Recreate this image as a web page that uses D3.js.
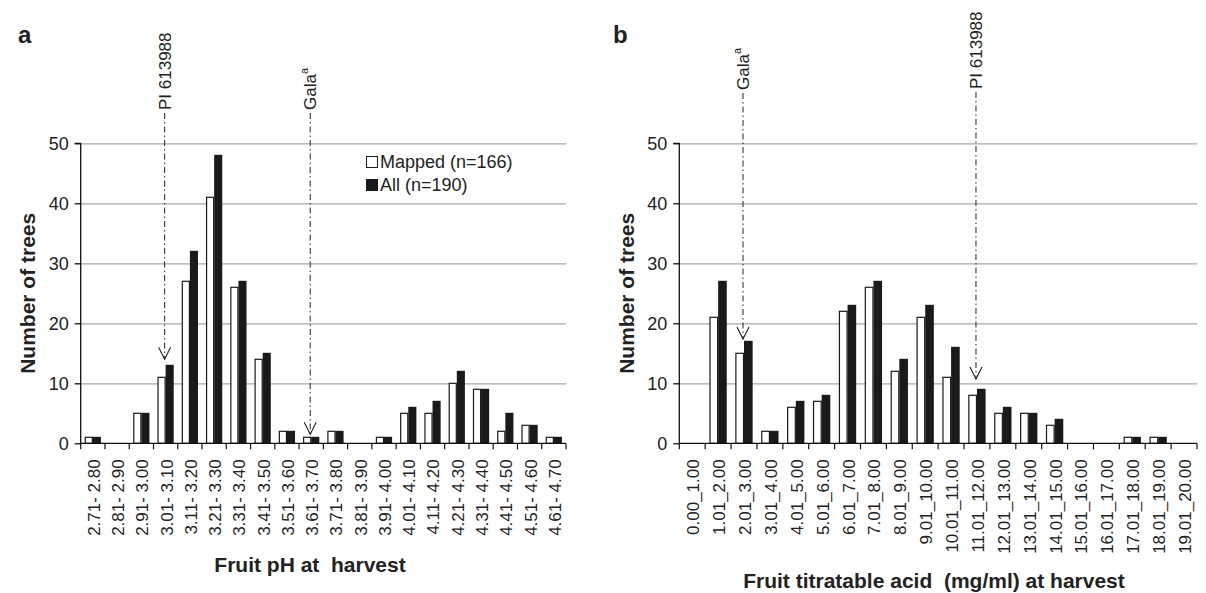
<!DOCTYPE html>
<html><head><meta charset="utf-8">
<script src="https://cdn.jsdelivr.net/npm/d3@7"></script>
<style>
html,body{margin:0;padding:0;background:#fff;}
svg{display:block;font-family:"Liberation Sans",Arial,sans-serif;}
text{white-space:pre;}
</style></head>
<body><svg id="c" width="1206" height="593"></svg>
<script>
// ---- data ----
const phCategories = ["2.71- 2.80","2.81- 2.90","2.91- 3.00","3.01- 3.10","3.11- 3.20","3.21- 3.30","3.31- 3.40","3.41- 3.50","3.51- 3.60","3.61- 3.70","3.71- 3.80","3.81- 3.90","3.91- 4.00","4.01- 4.10","4.11- 4.20","4.21- 4.30","4.31- 4.40","4.41- 4.50","4.51- 4.60","4.61- 4.70"];
const phMapped = [1,0,5,11,27,41,26,14,2,1,2,0,1,5,5,10,9,2,3,1];
const phAll    = [1,0,5,13,32,48,27,15,2,1,2,0,1,6,7,12,9,5,3,1];

const taCategories = ["0.00_1.00","1.01_2.00","2.01_3.00","3.01_4.00","4.01_5.00","5.01_6.00","6.01_7.00","7.01_8.00","8.01_9.00","9.01_10.00","10.01_11.00","11.01_12.00","12.01_13.00","13.01_14.00","14.01_15.00","15.01_16.00","16.01_17.00","17.01_18.00","18.01_19.00","19.01_20.00"];
const taMapped = [0,21,15,2,6,7,22,26,12,21,11,8,5,5,3,0,0,1,1,0];
const taAll    = [0,27,17,2,7,8,23,27,14,23,16,9,6,5,4,0,0,1,1,0];

const yTicks = [0,10,20,30,40,50];
const seriesNames = ["Mapped (n=166)","All (n=190)"];

// annotations: category, arrow tip value, label
const phAnnotCats = ["3.01- 3.10","3.61- 3.70"];
const phAnnotTips = [14,1.5];
const phAnnotLabels = ["PI 613988","Gala"];
const taAnnotCats = ["2.01_3.00","11.01_12.00"];
const taAnnotTips = [17.4,10.7];
const taAnnotLabels = ["Gala","PI 613988"];

// ---- layout ----
const svg = d3.select("#c");
const yTop = 143.3, yBot = 443.3;

function panel(opt){
  const g = svg.append("g");
  const x = d3.scaleBand().domain(opt.cats).range([opt.x0, opt.x1]).paddingInner(0).paddingOuter(0);
  const y = d3.scaleLinear().domain([0,50]).range([yBot, yTop]);
  const bw = x.bandwidth();
  const xs = d3.scaleBand().domain(["m","a"]).range([bw/6, 5*bw/6]);

  // gridlines
  g.append("g").selectAll("line").data(yTicks.filter(d=>d>0)).join("line")
    .attr("x1", opt.x0).attr("x2", opt.x1)
    .attr("y1", d=>y(d)+0.5).attr("y2", d=>y(d)+0.5)
    .attr("stroke","#a8a8a8").attr("stroke-width",1.3);

  // bars
  const rows = opt.cats.map((c,i)=>({c, m:opt.mapped[i], a:opt.all[i]}));
  g.append("g").selectAll("rect.m").data(rows.filter(d=>d.m>0)).join("rect")
    .attr("x", d=>x(d.c)+xs("m")+0.5).attr("y", d=>y(d.m))
    .attr("width", xs.bandwidth()-1).attr("height", d=>y(0)-y(d.m))
    .attr("fill","#fff").attr("stroke","#1a1a1a").attr("stroke-width",1.2);
  g.append("g").selectAll("rect.a").data(rows.filter(d=>d.a>0)).join("rect")
    .attr("x", d=>x(d.c)+xs("a")).attr("y", d=>y(d.a)-0.5)
    .attr("width", xs.bandwidth()).attr("height", d=>y(0)-y(d.a)+0.5)
    .attr("fill","#1a1a1a");

  // y axis
  const ya = d3.axisLeft(y).tickValues(yTicks).tickSize(6).tickPadding(6);
  const yg = g.append("g").attr("transform",`translate(${opt.x0},0)`).call(ya);
  yg.select(".domain").attr("stroke","#111").attr("stroke-width",1.3).attr("d",`M-6,${yTop}H0V${yBot}`);
  yg.selectAll(".tick line").attr("stroke","#111").attr("stroke-width",1.3);
  yg.selectAll("text").attr("font-size",18).attr("fill","#222").attr("font-family","Liberation Sans, Arial, sans-serif");

  // x axis
  g.append("line").attr("x1",opt.x0).attr("x2",opt.x1).attr("y1",yBot).attr("y2",yBot)
    .attr("stroke","#111").attr("stroke-width",1.3);
  const bounds = opt.cats.map(c=>x(c)).concat([opt.x1]);
  g.append("g").selectAll("line").data(bounds).join("line")
    .attr("x1",d=>d).attr("x2",d=>d).attr("y1",yBot).attr("y2",yBot+6)
    .attr("stroke","#111").attr("stroke-width",1.2);
  g.append("g").selectAll("text").data(opt.cats).join("text")
    .attr("transform", d=>`translate(${x(d)+bw/2+1},${yBot+16}) rotate(-90)`)
    .attr("text-anchor","end").attr("dy","0.35em")
    .attr("font-size",17).attr("fill","#222").text(d=>d);

  // titles
  g.append("text").attr("x",opt.titleX).attr("y",opt.titleY).attr("text-anchor","middle")
    .attr("font-size",21).attr("font-weight","bold").attr("fill","#222").text(opt.title);
  g.append("text").attr("transform",`translate(${opt.ylabX},${(yTop+yBot)/2}) rotate(-90)`)
    .attr("text-anchor","middle").attr("font-size",21).attr("font-weight","bold").attr("fill","#222")
    .text("Number of trees");
  g.append("text").attr("x",opt.letterX).attr("y",43).attr("font-size",24).attr("font-weight","bold")
    .attr("fill","#222").text(opt.letter);

  // annotations
  opt.annCats.forEach((c,i)=>{
    const ax = x(c)+bw/2 - 1;
    const top = opt.annTop[i];
    const tip = y(opt.annTips[i]);
    g.append("line").attr("x1",ax).attr("x2",ax).attr("y1",top).attr("y2",tip)
      .attr("stroke","#222").attr("stroke-width",1).attr("stroke-dasharray","6,3,1.5,3");
    g.append("path").attr("d",`M${ax-6},${tip-12}L${ax},${tip}L${ax+6},${tip-12}`)
      .attr("fill","none").attr("stroke","#222").attr("stroke-width",1.1);
    const t = g.append("text").attr("transform",`translate(${ax},${top-3}) rotate(-90)`)
      .attr("dy","0.35em").attr("font-size",17).attr("fill","#222");
    t.append("tspan").text(opt.annLabels[i]);
    if(opt.annLabels[i]==="Gala"){
      t.append("tspan").attr("font-size",11).attr("dy","-0.75em").text("a");
    }
  });
  return {x,y};
}

panel({cats:phCategories, mapped:phMapped, all:phAll, x0:80.7, x1:566,
  title:"Fruit pH at  harvest", titleX:310, titleY:572, ylabX:35, letter:"a", letterX:18,
  annCats:phAnnotCats, annTips:phAnnotTips, annLabels:phAnnotLabels, annTop:[113,113]});
panel({cats:taCategories, mapped:taMapped, all:taAll, x0:679.3, x1:1197,
  title:"Fruit titratable acid  (mg/ml) at harvest", titleX:934, titleY:588, ylabX:634, letter:"b", letterX:613,
  annCats:taAnnotCats, annTips:taAnnotTips, annLabels:taAnnotLabels, annTop:[93,92]});

// legend (left panel)
const lg = svg.append("g").attr("transform","translate(366,156)");
lg.selectAll("rect").data(seriesNames).join("rect")
  .attr("x",0.5).attr("y",(d,i)=>i*23+0.5).attr("width",11).attr("height",11)
  .attr("fill",(d,i)=>i===0?"#fff":"#1a1a1a").attr("stroke","#1a1a1a").attr("stroke-width",1);
lg.selectAll("text").data(seriesNames).join("text")
  .attr("x",14).attr("y",(d,i)=>i*23+11.5).attr("font-size",18).attr("fill","#222").text(d=>d);
</script></body></html>
